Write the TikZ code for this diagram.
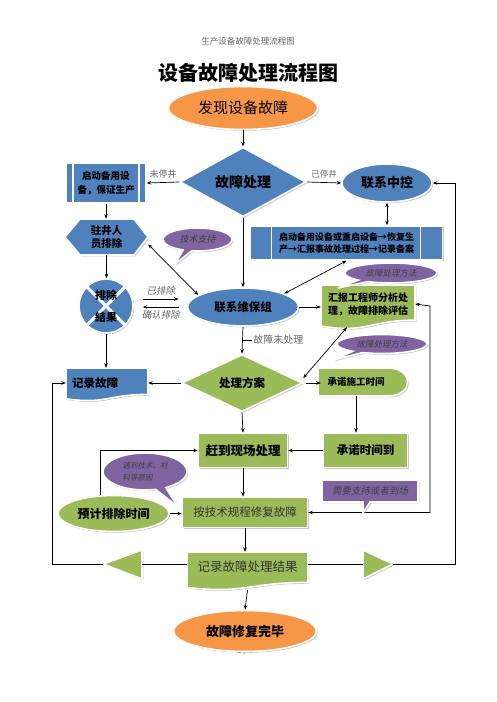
\documentclass[tikz,border=0pt]{standalone}
\usepackage{fontspec}
\setmainfont{Noto Sans CJK SC}
\newfontfamily\cjkit{Noto Sans CJK SC}[FakeSlant=0.2]
\usetikzlibrary{shapes.geometric,shapes.callouts,shadows,arrows.meta}
\definecolor{cblue}{HTML}{4F81BD}
\definecolor{cgreen}{HTML}{9BBB59}
\definecolor{corange}{HTML}{F79646}
\definecolor{cpurple}{HTML}{8064A2}
\newcommand\fsz[2]{\fontsize{#1}{#2}\selectfont}
\newcommand\docpath[4]{(#1,#2) -- (#3,#2) -- (#3,{#2+0.80*(#4-#2)}) .. controls ({(#1+#3)/2},{#2+0.80*(#4-#2)}) and ({(#1+#3)/2},{#2+1.107*(#4-#2)}) .. (#1,{#2+0.934*(#4-#2)}) -- cycle}
\begin{document}
\begin{tikzpicture}[x=1pt,y=-1pt,
  shp/.style={draw=white, line width=1.6pt, drop shadow={shadow xshift=1.3pt, shadow yshift=-1.3pt, fill=black!45, opacity=.5}},
  arr/.style={draw=black, line width=0.7pt, -{Stealth[length=4.5pt,width=3.5pt]}},
  darr/.style={draw=black, line width=0.7pt, {Stealth[length=4.5pt,width=3.5pt]}-{Stealth[length=4.5pt,width=3.5pt]}},
  ln/.style={draw=black, line width=0.7pt},
  lbl/.style={text=black!60, inner sep=1pt},
  ilbl/.style={text=black!60, inner sep=1pt, font=\cjkit\fsz{9.5}{11}},
  box/.style={inner sep=0pt, align=center},
  call/.style={shp, fill=cpurple, inner sep=0pt, text=black!75, align=center},
  stripe/.style={draw=white, line width=1.5pt}
]
\useasboundingbox (0,0) rectangle (496,702);

% headings
\node[text=black!60, font=\fsz{8.5}{10}] (hdr) at (248,41) {生产设备故障处理流程图};
\node[font=\bfseries\fsz{20}{22}] (title) at (248,73) {设备故障处理流程图};

% start
\node[ellipse, shp, fill=corange, minimum width=149pt, minimum height=43pt, box, font=\fsz{15}{17}] (start) at (243,108) {发现设备故障};

% diamond 1
\node[diamond, shp, fill=cblue, minimum width=126pt, minimum height=52pt, box, font=\bfseries\fsz{14}{16}] (d1) at (243,182) {故障处理};

% striped box left
\node[rectangle, shp, fill=cblue, minimum width=80pt, minimum height=40pt, box, font=\bfseries\fsz{9.5}{14}] (st1) at (106,183) {启动备用设\\备，保证生产};
\draw[stripe] ([xshift=8pt]st1.north west) -- ([xshift=8pt]st1.south west);
\draw[stripe] ([xshift=-8pt]st1.north east) -- ([xshift=-8pt]st1.south east);

% 联系中控
\node[ellipse, shp, fill=cblue, minimum width=90pt, minimum height=38pt, box, font=\bfseries\fsz{13}{15}] (lxzk) at (387,183) {联系中控};

% striped box right
\node[rectangle, shp, fill=cblue, minimum width=192pt, minimum height=34pt, box, font=\bfseries\fsz{9}{12.5}] (box2) at (346.5,243) {启动备用设备或重启设备→恢复生\\产→汇报事故处理过程→记录备案};
\draw[stripe] ([xshift=22pt]box2.north west) -- ([xshift=22pt]box2.south west);
\draw[stripe] ([xshift=-23pt]box2.north east) -- ([xshift=-23pt]box2.south east);

% hexagon
\path[shp, fill=cblue] (65,237) -- (80,219) -- (134,219) -- (148,237) -- (134,255) -- (80,255) -- cycle;
\node[minimum width=83pt, minimum height=36pt, box, font=\bfseries\fsz{10.5}{13.5}] (hex) at (106.5,237) {驻井人\\员排除};

% circle junction
\node[circle, shp, fill=cblue, minimum size=54pt, inner sep=0pt] (circ) at (106,306) {};
\draw[white, line width=3pt] (circ.north west) -- (circ.south east) (circ.north east) -- (circ.south west);
\node[font=\bfseries\fsz{11}{13}, inner sep=0pt] (circa) at (106,295) {排除};
\node[font=\bfseries\fsz{11}{13}, inner sep=0pt] (circb) at (106,317) {結果};

% 联系维保组
\node[ellipse, shp, fill=cblue, minimum width=111pt, minimum height=38pt, box, font=\bfseries\fsz{11.5}{13}] (wb) at (243,307) {联系维保组};

% 汇报工程师
\path[shp, fill=cgreen] \docpath{321}{285}{415}{329};
\node[minimum width=94pt, minimum height=38pt, box, font=\bfseries\fsz{10}{13}] (hb) at (368,304) {汇报工程师分析处\\理，故障排除评估};

% diamond 2
\node[diamond, shp, fill=cgreen, minimum width=121pt, minimum height=48pt, box, font=\bfseries\fsz{11.5}{13}] (d2) at (242,383) {处理方案};

% 记录故障
\path[shp, fill=cblue] \docpath{66}{368}{148}{401};
\node[minimum width=82pt, minimum height=30pt, inner sep=0pt, text width=70pt, align=left, font=\bfseries\fsz{11.5}{13}] (jl) at (107,383) {记录故障};

% 承诺施工时间
\path[shp, fill=cgreen] (318,368) -- (388,368) .. controls (414,368) and (414,396) .. (388,396) -- (318,396) -- cycle;
\node[minimum width=76pt, minimum height=28pt, box, font=\bfseries\fsz{9.5}{11}] (cn1) at (356,382) {承诺施工时间};

% 承诺时间到
\node[rectangle, shp, fill=cgreen, minimum width=84pt, minimum height=34pt, box, font=\bfseries\fsz{11.5}{13}] (cn2) at (365.5,450.5) {承诺时间到};

% 赶到现场处理
\node[rectangle, shp, fill=cgreen, minimum width=89pt, minimum height=34pt, box, font=\bfseries\fsz{12.5}{14}] (gd) at (243,450.5) {赶到现场处理};

% 按技术规程修复故障
\node[rectangle, shp, fill=cgreen, minimum width=125pt, minimum height=30pt, box, text=black!80, font=\fsz{11.5}{13}] (aj) at (245,512.5) {按技术规程修复故障};

% 预计排除时间
\node[ellipse, shp, fill=cgreen, minimum width=111pt, minimum height=36pt, box, font=\bfseries\fsz{12}{14}] (yj) at (113.5,513.5) {预计排除时间};

% 记录故障处理结果
\path[shp, fill=cgreen] \docpath{187}{552}{308}{590};
\node[minimum width=121pt, minimum height=30pt, box, text=black!80, font=\fsz{12.5}{14}] (jg) at (247.5,567) {记录故障处理结果};

% triangles
\path[shp, fill=cgreen] (103,564) -- (142,550) -- (142,579) -- cycle;
\path[shp, fill=cgreen] (363,550) -- (393,564) -- (363,579) -- cycle;
\coordinate (tlb) at (142,564);
\coordinate (tlt) at (103,564);
\coordinate (trb) at (363,564);
\coordinate (trt) at (393,564);
\coordinate (lc) at (52,564);
\coordinate (rc) at (455,564);
\coordinate (hbx) at (430,306);
\coordinate (tk) at (243,340);

% page number (partly hidden)
\node[text=black!70, font=\fsz{7.5}{8}] (pg) at (245,651.5) {1 / 4};

% end
\node[ellipse, shp, fill=corange, minimum width=143pt, minimum height=41pt, box, font=\bfseries\fsz{13}{15}] (end) at (245,631) {故障修复完毕};

% connectors
\draw[arr] (start) -- (d1);
\draw[arr] (d1.west) -- (st1.east) node[midway, above=3pt, lbl, font=\fsz{9}{10}] (l1) {未停井};
\draw[arr] (d1.east) -- (lxzk.west) node[midway, above=3pt, lbl, font=\fsz{8.5}{10}] (l2) {已停井};
\draw[arr] (st1.south) -- (st1.south |- hex.north);
\draw[arr] (hex.south) -- (hex.south |- circ.north);
\draw[darr] (lxzk.south) -- (lxzk.south |- box2.north);
\draw[arr] (d1.south) -- (wb.north);
\draw[arr] ([xshift=9pt,yshift=7pt]circ.east) -- ([xshift=-8pt,yshift=8pt]wb.west) node[midway, above=2pt, ilbl] (l3) {已排除};
\draw[arr] ([xshift=-8pt,yshift=0pt]wb.west) -- ([xshift=9pt,yshift=-1pt]circ.east) node[midway, below=2pt, ilbl] (l4) {确认排除};
\draw[darr] (hex.-10) -- (wb.165);
\draw[darr] (wb.18) -- (box2.south);
\draw[arr] (wb.east) -- (wb.east -| hb.west);
\draw[darr] (hb.east) -- (hbx) |- (aj.east);
\draw[arr] (wb.south) -- (d2.north);
\draw[ln] (tk) -- ++(9,0) node[right, lbl, font=\fsz{10}{11}] (l5) {故障未处理};
\draw[darr] ([xshift=-21pt,yshift=-4pt]hb.south) -- ([yshift=5pt]d2.east);
\draw[arr] (d2.west) -- (d2.west -| jl.east);
\draw[arr] (circ.south) -- (circ.south |- jl.north);
\draw[arr] ([xshift=3pt]d2.east) -- ([xshift=3pt]d2.east -| cn1.west);
\draw[arr] (cn1.south) -- (cn1.south |- cn2.north);
\draw[arr] (cn2.west) -- (gd.east);
\draw[arr] (d2.south) -- (gd.north);
\draw[arr] (gd.south) -- (gd.south |- aj.north);
\draw[arr] (yj.east) -- (yj.east -| aj.west);
\draw[arr] (yj.125) |- (gd.west);
\draw[arr] (aj.south) -- (aj.south |- jg.north);
\draw[arr] ([yshift=-8pt]jg.south) -- (end.north);
\draw[ln] (tlb -| jg.west) -- (tlb);
\draw[arr] (tlt) -- (lc) |- (jl.west);
\draw[ln] (tlb -| jg.east) -- (trb);
\draw[arr] (trt) -- (rc) |- (lxzk.east);

% callouts
\node[ellipse callout, call, minimum width=69pt, minimum height=23pt, callout absolute pointer={(175,264)}, font=\cjkit\fsz{9}{10}] (c1) at (197.5,239.5) {技术支持};
\node[ellipse callout, call, minimum width=92pt, minimum height=20pt, callout absolute pointer={(338,288)}, font=\cjkit\fsz{8.5}{10}] (c2) at (391,273) {故障处理方法};
\node[ellipse callout, call, minimum width=90pt, minimum height=19pt, callout absolute pointer={(333,360)}, font=\cjkit\fsz{8.5}{10}] (c3) at (382,344) {故障处理方法};
\node[rectangle callout, call, minimum width=96pt, minimum height=22pt, callout absolute pointer={(363,513)}, font=\cjkit\fsz{9.5}{11}] (c4) at (370,491) {需要支持或者到场};
\node[ellipse callout, call, minimum width=84pt, minimum height=37pt, callout absolute pointer={(178,507)}, align=left, font=\cjkit\fsz{7.5}{12}] (c5) at (145,471.5) {遇到技术、材\\料等原因};
\end{tikzpicture}
\end{document}
